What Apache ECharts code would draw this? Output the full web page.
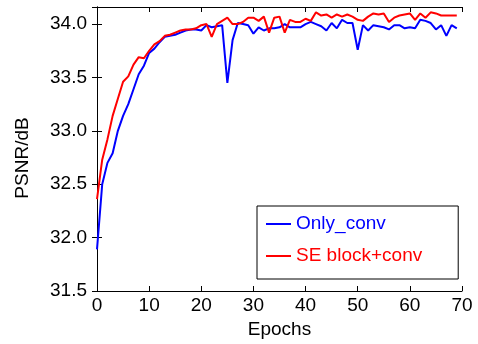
<!DOCTYPE html>
<html>
<head>
<meta charset="utf-8">
<script src="https://cdn.jsdelivr.net/npm/echarts@6/dist/echarts.min.js"></script>
<style>html,body{margin:0;padding:0;background:#fff;}#c{width:478px;height:344px;}</style>
</head>
<body>
<div id="c"></div>
<script>
var epochs = [];
for (var i = 0; i < 70; i++) epochs.push(i);
var onlyConv = [31.89,32.50,32.70,32.79,33.00,33.14,33.25,33.39,33.53,33.61,
  33.73,33.77,33.83,33.88,33.89,33.90,33.92,33.94,33.95,33.95,
  33.94,33.99,33.97,33.98,33.99,33.45,33.85,34.01,34.00,33.99,
  33.91,33.97,33.94,33.96,33.96,33.97,34.00,33.97,33.97,33.97,
  34.00,34.02,34.00,33.98,33.94,34.01,33.96,34.04,34.01,34.01,
  33.76,33.99,33.94,33.99,33.98,33.97,33.95,33.99,33.99,33.96,
  33.97,33.96,34.04,34.03,34.01,33.95,33.99,33.89,33.99,33.96];
var seConv = [32.36,32.73,32.92,33.14,33.30,33.46,33.51,33.62,33.69,33.68,
  33.75,33.81,33.84,33.89,33.90,33.92,33.94,33.95,33.95,33.96,
  33.99,34.00,33.88,34.00,34.03,34.06,34.00,34.00,34.02,34.06,
  34.06,34.03,34.07,33.92,34.06,34.07,33.92,34.04,34.02,34.02,
  34.05,34.03,34.11,34.08,34.09,34.06,34.09,34.07,34.09,34.07,
  34.04,34.03,34.07,34.10,34.09,34.10,34.02,34.06,34.08,34.09,
  34.10,34.04,34.10,34.06,34.11,34.10,34.08,34.08,34.08,34.08];
var seriesNames = ['Only_conv', 'SE block+conv'];
var seriesColors = ['#0000ff', '#ff0000'];
var xTitle = 'Epochs';
var yTitle = 'PSNR/dB';

function pairs(ys) { return ys.map(function (v, i) { return [epochs[i], v]; }); }

var font = 'Liberation Sans, Arial, sans-serif';
var axisLineStyle = { color: '#000', width: 1 };
var chart = echarts.init(document.getElementById('c'));
chart.setOption({
  animation: false,
  backgroundColor: '#fff',
  grid: { left: 97, right: 16, top: 7, bottom: 53 },
  xAxis: [{
    type: 'value', min: 0, max: 70, interval: 10, position: 'bottom',
    axisLine: { lineStyle: axisLineStyle },
    axisTick: { inside: true, length: 5, lineStyle: axisLineStyle },
    splitLine: { show: false },
    axisLabel: { fontSize: 19, fontFamily: font, color: '#000', margin: 5 },
    name: xTitle, nameLocation: 'middle', nameGap: 28,
    nameTextStyle: { fontSize: 19, fontFamily: font, color: '#000' }
  }, {
    type: 'value', min: 0, max: 70, interval: 10, position: 'top',
    axisLine: { show: true, lineStyle: axisLineStyle },
    axisTick: { inside: true, length: 5, lineStyle: axisLineStyle },
    splitLine: { show: false }, axisLabel: { show: false }
  }],
  yAxis: [{
    type: 'value', min: 31.5, max: 34.16, interval: 0.5, position: 'left',
    axisLine: { show: true, lineStyle: axisLineStyle },
    axisTick: { inside: true, length: 5, lineStyle: axisLineStyle },
    splitLine: { show: false },
    axisLabel: { fontSize: 19, fontFamily: font, color: '#000', margin: 10, showMaxLabel: false,
      formatter: function (v) { return v.toFixed(1); } }
  }, {
    type: 'value', min: 31.5, max: 34.16, interval: 0.5, position: 'right',
    axisLine: { show: true, lineStyle: axisLineStyle },
    axisTick: { inside: true, length: 5, lineStyle: axisLineStyle },
    splitLine: { show: false }, axisLabel: { show: false }
  }],
  legend: {
    orient: 'vertical', left: 257, top: 206,
    padding: [7, 36, 12, 9], itemGap: 10, itemWidth: 25, itemHeight: 2,
    icon: 'rect',
    borderColor: '#000', borderWidth: 1, backgroundColor: '#fff',
    textStyle: { fontSize: 19, fontFamily: font, lineHeight: 22 },
    data: seriesNames.map(function (n, i) { return { name: n, textStyle: { color: seriesColors[i] } }; })
  },
  graphic: [{
    type: 'text', x: 23, y: 158, rotation: Math.PI / 2,
    style: { text: yTitle, fontSize: 19, fontFamily: font, fill: '#000', align: 'center', verticalAlign: 'middle' }
  }],
  series: [
    { name: seriesNames[0], type: 'line', symbol: 'none', data: pairs(onlyConv),
      lineStyle: { color: seriesColors[0], width: 2 }, itemStyle: { color: seriesColors[0] } },
    { name: seriesNames[1], type: 'line', symbol: 'none', data: pairs(seConv),
      lineStyle: { color: seriesColors[1], width: 2 }, itemStyle: { color: seriesColors[1] } }
  ]
});
</script>
</body>
</html>
